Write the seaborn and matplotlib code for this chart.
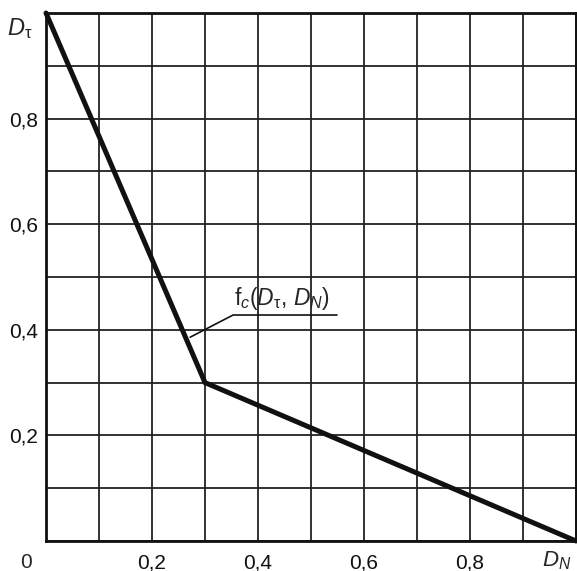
import numpy as np
import pandas as pd
import matplotlib
matplotlib.use("Agg")
import matplotlib.pyplot as plt
import seaborn as sns

# curve f_c(D_tau, D_N)
d_n = [0.0, 0.3, 1.0]
d_tau = [1.0, 0.3, 0.0]
tick_vals = [0.2, 0.4, 0.6, 0.8]
tick_labels = ["0,2", "0,4", "0,6", "0,8"]

sns.set_style("white")
plt.rcParams["font.family"] = ["Liberation Sans", "DejaVu Sans"]
plt.rcParams["mathtext.fontset"] = "custom"
plt.rcParams["mathtext.rm"] = "Liberation Sans"
plt.rcParams["mathtext.it"] = "Liberation Sans:italic"

fig = plt.figure(figsize=(5.77, 5.71), dpi=100)
ax = fig.add_axes([46 / 577, 30 / 571, 530 / 577, 528 / 571])

df = pd.DataFrame({"DN": d_n, "Dt": d_tau})
sns.lineplot(data=df, x="DN", y="Dt", ax=ax, color="#111111", linewidth=3.6,
             sort=False, solid_joinstyle="miter", zorder=5, clip_on=False)

ax.set_xlim(0, 1)
ax.set_ylim(0, 1)
ax.set_xticks(tick_vals)
ax.set_xticklabels(tick_labels)
ax.set_yticks(tick_vals)
ax.set_yticklabels(tick_labels)
ax.set_xticks(np.arange(0, 1.01, 0.1), minor=True)
ax.set_yticks(np.arange(0, 1.01, 0.1), minor=True)
ax.grid(which="both", color="#222222", linewidth=1.3)
ax.tick_params(which="both", length=0, labelsize=15, colors="#111111")
ax.tick_params(axis="x", pad=9)
ax.tick_params(axis="y", pad=6)
ax.set_xlabel("")
ax.set_ylabel("")
for s in ax.spines.values():
    s.set_color("#111111")
    s.set_linewidth(2)

ax.text(-0.027, -0.023, "0", transform=ax.transAxes, ha="right", va="top", fontsize=15)
ax.text(-0.025, 0.97, r"$D_\mathrm{\tau}$", transform=ax.transAxes, ha="right",
        va="center", fontsize=17)
ax.text(0.935, -0.016, r"$D_N$", transform=ax.transAxes, ha="left", va="top", fontsize=16)

# leader line with underline
ax.plot([0.272, 0.353, 0.549], [0.386, 0.428, 0.428], color="#111111", linewidth=1.2)
ax.text(0.355, 0.434, r"f$_c$($D_\mathrm{\tau}$, $D_N$)", fontsize=16.5, ha="left", va="bottom")

fig.savefig("out.png", dpi=100)
